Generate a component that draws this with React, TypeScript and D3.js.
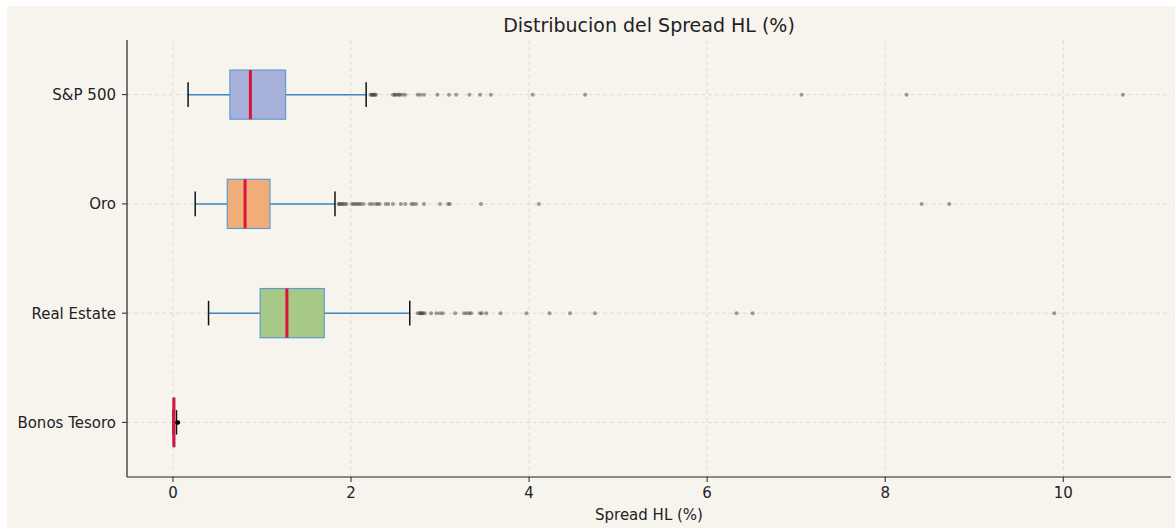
import React from 'react'
import * as d3 from 'd3'

// box plot stats (Spread HL, %)
const categories = ['S&P 500', 'Oro', 'Real Estate', 'Bonos Tesoro']
const whiskerLow = [0.17, 0.25, 0.4, 0.0]
const q1 = [0.64, 0.61, 0.98, 0.005]
const medians = [0.87, 0.81, 1.28, 0.01]
const q3 = [1.265, 1.09, 1.7, 0.02]
const whiskerHigh = [2.17, 1.82, 2.66, 0.04]
const boxColors = ['#a8b1da', '#f0ad7a', '#a6c986', '#c9d6e8']

const outliersSP = [2.22, 2.23, 2.24, 2.25, 2.26, 2.27, 2.28, 2.47, 2.49, 2.5, 2.52, 2.54, 2.55, 2.58, 2.61,
  2.75, 2.78, 2.82, 2.97, 3.1, 3.18, 3.33, 3.45, 3.57, 4.04, 4.63, 7.06, 8.24, 10.67]
const outliersOro = [1.86, 1.87, 1.88, 1.9, 1.91, 1.93, 1.95, 2.01, 2.03, 2.05, 2.07, 2.09, 2.11, 2.14,
  2.21, 2.24, 2.28, 2.3, 2.32, 2.39, 2.42, 2.47, 2.56, 2.61, 2.68, 2.7, 2.73, 2.82, 3.0, 3.09, 3.11, 3.46,
  4.11, 8.41, 8.72]
const outliersRE = [2.75, 2.77, 2.78, 2.79, 2.8, 2.81, 2.83, 2.9, 2.96, 3.0, 3.03, 3.17, 3.27, 3.3, 3.33,
  3.35, 3.45, 3.47, 3.52, 3.68, 3.97, 4.23, 4.46, 4.74, 6.33, 6.51, 9.9]
const outliersBonos = [0.045, 0.05, 0.055, 0.06]
const outliers = [outliersSP, outliersOro, outliersRE, outliersBonos]

const xTicks = [0, 2, 4, 6, 8, 10]

const W = 1175
const H = 528
const margin = { left: 127, right: 4, top: 40, bottom: 51 }
const font = 'DejaVu Sans, sans-serif'

export default function App() {
  const x = d3.scaleLinear().domain([-0.516, 11.21]).range([margin.left, W - margin.right])
  const y = d3.scalePoint<string>().domain(categories).range([margin.top, H - margin.bottom]).padding(0.5)
  const boxH = y.step() * 0.45
  const capH = boxH / 2
  const plotBottom = H - margin.bottom

  return (
    <svg width={W} height={H} style={{ position: 'absolute', left: 0, top: 0, background: '#fff' }}>
      <rect x={7} y={6} width={W - 7} height={H - 6} fill="#f7f4ee" />
      <text x={(margin.left + W - margin.right) / 2} y={32} textAnchor="middle" fontFamily={font} fontSize={19} fill="#222">
        Distribucion del Spread HL (%)
      </text>

      {/* grid */}
      <g stroke="#d9d6d2" strokeDasharray="4,3" strokeWidth={0.8}>
        {xTicks.map(t => (
          <line key={'gx' + t} x1={x(t)} x2={x(t)} y1={margin.top} y2={plotBottom} />
        ))}
        {categories.map(c => (
          <line key={'gy' + c} x1={margin.left} x2={W - margin.right} y1={y(c)} y2={y(c)} />
        ))}
      </g>

      {categories.map((c, i) => {
        const cy = y(c) as number
        return (
          <g key={c}>
            <line x1={x(whiskerLow[i])} x2={x(q1[i])} y1={cy} y2={cy} stroke="#3b87c3" strokeWidth={1.5} />
            <line x1={x(q3[i])} x2={x(whiskerHigh[i])} y1={cy} y2={cy} stroke="#3b87c3" strokeWidth={1.5} />
            <line x1={x(whiskerLow[i])} x2={x(whiskerLow[i])} y1={cy - capH / 2} y2={cy + capH / 2} stroke="#111" strokeWidth={1.5} />
            <line x1={x(whiskerHigh[i])} x2={x(whiskerHigh[i])} y1={cy - capH / 2} y2={cy + capH / 2} stroke="#111" strokeWidth={1.5} />
            <rect x={x(q1[i])} y={cy - boxH / 2} width={x(q3[i]) - x(q1[i])} height={boxH}
              fill={boxColors[i]} stroke="#5d9bd0" strokeWidth={1.2} />
            {outliers[i].map((v, k) => (
              <circle key={k} cx={x(v)} cy={cy} r={2} fill={i === 3 ? '#000' : '#444'} fillOpacity={i === 3 ? 0.9 : 0.5} />
            ))}
            <line x1={x(medians[i])} x2={x(medians[i])} y1={cy - boxH / 2} y2={cy + boxH / 2} stroke="#dc143c" strokeWidth={3} />
          </g>
        )
      })}

      {/* axes */}
      <line x1={margin.left} x2={margin.left} y1={margin.top} y2={plotBottom} stroke="#222" strokeWidth={1.2} />
      <line x1={margin.left} x2={W - margin.right} y1={plotBottom} y2={plotBottom} stroke="#222" strokeWidth={1.2} />
      {xTicks.map(t => (
        <g key={'xt' + t}>
          <line x1={x(t)} x2={x(t)} y1={plotBottom} y2={plotBottom + 5} stroke="#222" />
          <text x={x(t)} y={plotBottom + 21} textAnchor="middle" fontFamily={font} fontSize={15} fill="#222">{t}</text>
        </g>
      ))}
      {categories.map(c => (
        <g key={'yt' + c}>
          <line x1={margin.left - 5} x2={margin.left} y1={y(c)} y2={y(c)} stroke="#222" />
          <text x={margin.left - 11} y={(y(c) as number) + 5.5} textAnchor="end" fontFamily={font} fontSize={15} fill="#222">{c}</text>
        </g>
      ))}
      <text x={(margin.left + W - margin.right) / 2} y={520} textAnchor="middle" fontFamily={font} fontSize={15} fill="#222">
        Spread HL (%)
      </text>
    </svg>
  )
}
